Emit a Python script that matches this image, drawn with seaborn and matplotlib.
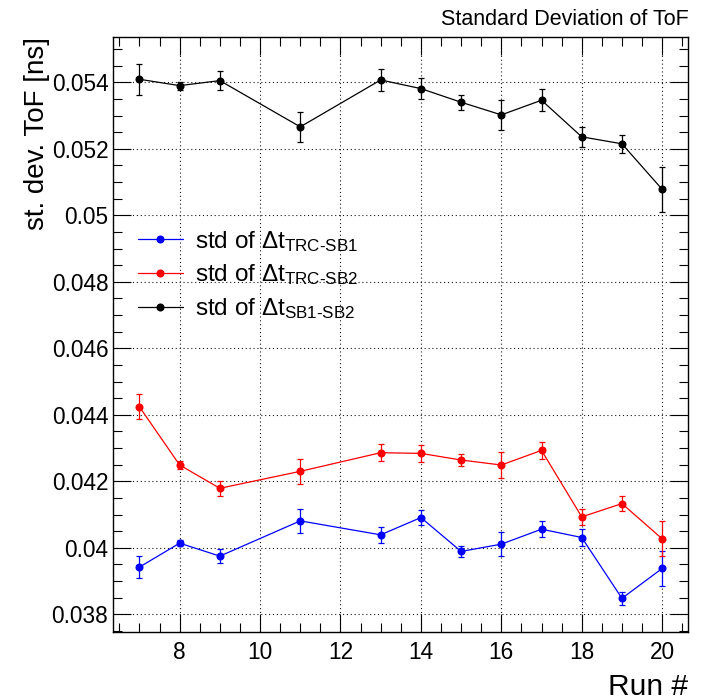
import numpy as np
import pandas as pd
import matplotlib
matplotlib.use("Agg")
import matplotlib.pyplot as plt
from matplotlib.lines import Line2D
from matplotlib.ticker import MultipleLocator, FuncFormatter
import seaborn as sns

# ---- data ----
runs = [7, 8, 9, 11, 13, 14, 15, 16, 17, 18, 19, 20]

std_trc_sb1 = [0.03942, 0.04014, 0.03975, 0.04081, 0.04039, 0.04091,
               0.03989, 0.04011, 0.04056, 0.04031, 0.03848, 0.03938]
err_trc_sb1 = [0.00034, 0.000085, 0.00022, 0.00036, 0.00024, 0.000235,
               0.000175, 0.00036, 0.000245, 0.00025, 0.0002, 0.00052]

std_trc_sb2 = [0.04424, 0.04249, 0.04179, 0.04230, 0.04286, 0.04284,
               0.04264, 0.04249, 0.04293, 0.04093, 0.04133, 0.04027]
err_trc_sb2 = [0.00038, 0.000115, 0.00023, 0.00037, 0.000255, 0.000255,
               0.00018, 0.00038, 0.000265, 0.00025, 0.00022, 0.000525]

std_sb1_sb2 = [0.05409, 0.05390, 0.05405, 0.05266, 0.05407, 0.05381,
               0.05340, 0.05302, 0.05346, 0.05236, 0.05215, 0.05078]
err_sb1_sb2 = [0.00046, 0.00012, 0.00029, 0.00045, 0.00032, 0.00031,
               0.00022, 0.00046, 0.00033, 0.00031, 0.00027, 0.00068]

series_labels = ["std of \u0394t$_{\\mathregular{TRC\u2010SB1}}$",
                 "std of \u0394t$_{\\mathregular{TRC\u2010SB2}}$",
                 "std of \u0394t$_{\\mathregular{SB1\u2010SB2}}$"]
series_colors = ["#0000ff", "#ff0000", "#000000"]

title_text = "Standard Deviation of ToF"
xlabel_text = "Run #"
ylabel_text = "st. dev. ToF [ns]"

# ---- style ----
sns.set_style("ticks")
plt.rcParams["font.family"] = ["Liberation Sans", "DejaVu Sans"]
plt.rcParams["mathtext.fontset"] = "custom"
plt.rcParams["mathtext.rm"] = "Liberation Sans"
plt.rcParams["mathtext.it"] = "Liberation Sans:italic"
plt.rcParams["mathtext.bf"] = "Liberation Sans:bold"
plt.rcParams["text.color"] = "black"
plt.rcParams["axes.labelcolor"] = "black"
plt.rcParams["xtick.color"] = "black"
plt.rcParams["ytick.color"] = "black"

W, H = 703, 700
fig = plt.figure(figsize=(W / 100, H / 100), dpi=100)
ax_left, ax_right, ax_top, ax_bot = 113.3, 688.3, 36.7, 632.3
ax = fig.add_axes([ax_left / W, 1 - ax_bot / H,
                   (ax_right - ax_left) / W, (ax_bot - ax_top) / H])

values = [std_trc_sb1, std_trc_sb2, std_sb1_sb2]
errors = [err_trc_sb1, err_trc_sb2, err_sb1_sb2]

for vals, errs, col in zip(values, errors, series_colors):
    df = pd.DataFrame({"run": runs, "value": vals})
    sns.lineplot(data=df, x="run", y="value", color=col, marker="o",
                 markersize=5.8, markeredgewidth=0, linewidth=0.9,
                 sort=False, errorbar=None, legend=False, ax=ax, zorder=3)
    ax.errorbar(runs, vals, yerr=errs, fmt="none", ecolor=col,
                elinewidth=0.9, capsize=2.3, capthick=0.9, zorder=3)

ax.set_xlim(6.35, 20.65)
ax.set_ylim(0.037459, 0.055371)

ax.xaxis.set_major_locator(MultipleLocator(2))
ax.xaxis.set_minor_locator(MultipleLocator(0.5))
ax.yaxis.set_major_locator(MultipleLocator(0.002))
ax.yaxis.set_minor_locator(MultipleLocator(0.0005))
ax.yaxis.set_major_formatter(FuncFormatter(lambda v, p: "%g" % round(v, 6)))
ax.xaxis.set_major_formatter(FuncFormatter(lambda v, p: "%g" % v))

ax.tick_params(which="both", direction="in", top=True, right=True,
               width=0.8, labelsize=16.3)
ax.tick_params(which="major", length=12.8)
ax.tick_params(which="minor", length=6.3)
ax.tick_params(axis="y", which="major", pad=3.6)
ax.tick_params(axis="x", which="major", pad=6.3)

for s in ax.spines.values():
    s.set_linewidth(1.0)
    s.set_color("black")

ax.grid(True, which="major", color="black", linestyle=(0, (1, 2.5)),
        linewidth=0.8, alpha=0.9)
ax.set_axisbelow(True)

ax.set_xlabel(xlabel_text, fontsize=21.5, loc="right", va="baseline")
ax.xaxis.set_label_coords(1.0, (ax_bot - 695) / (ax_bot - ax_top))
ax.set_ylabel(ylabel_text, fontsize=20, loc="top")
ax.yaxis.set_label_coords((50 - ax_left) / (ax_right - ax_left), 1.0)

ax.set_title(title_text, loc="right", fontsize=15.5, pad=8.4)

handles = [Line2D([], [], color=c, marker="o", markersize=5.8,
                  markeredgewidth=0, linewidth=0.9) for c in series_colors]
leg = ax.legend(handles, series_labels, loc="center left",
                bbox_to_anchor=(138 / W, 1 - 275 / H),
                bbox_transform=fig.transFigure, frameon=False,
                fontsize=17.5, handlelength=1.85, handletextpad=0.5,
                labelspacing=0.36, borderpad=0, borderaxespad=0,
                numpoints=1)

fig.savefig("out.png", dpi=100)
